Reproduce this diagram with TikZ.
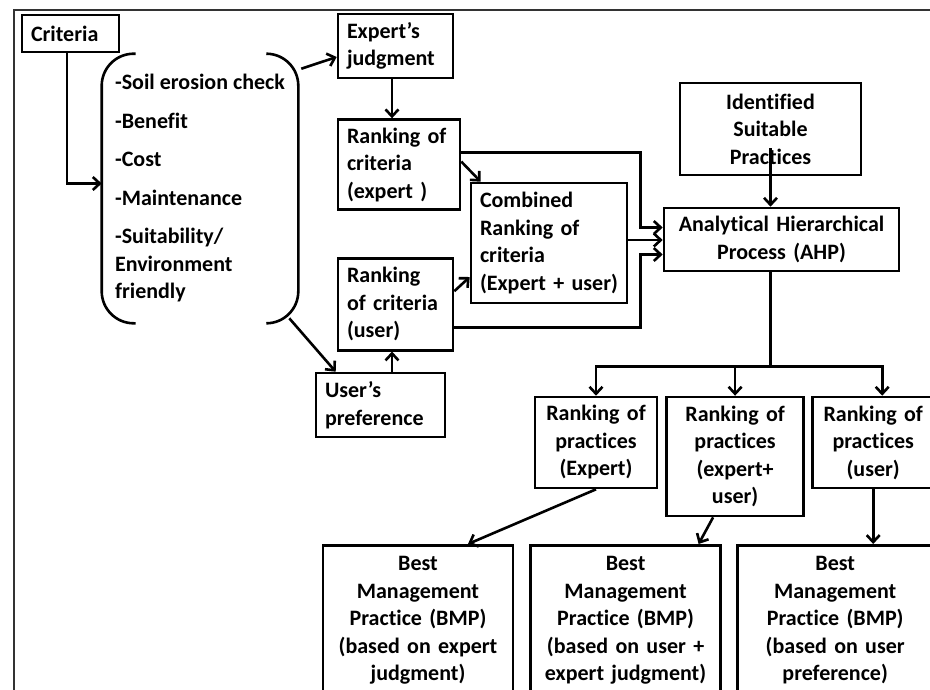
\documentclass[tikz,border=0pt]{standalone}
\usepackage{fontspec}
\setmainfont{Carlito}[Ligatures=NoCommon]
\usetikzlibrary{positioning,arrows.meta}

\begin{document}
\begin{tikzpicture}[
    x=1pt, y=-1pt,
    >={Straight Barb[length=7pt,width=13pt]},
    line width=2.6pt,
    txt/.style={font=\bfseries\fontsize{22}{27.5}\selectfont},
    box/.style={
        draw,
        txt,
        align=left,
        inner xsep=9pt,
        inner ysep=0pt
    },
    cbox/.style={box, align=center},
    bracket/.style={rounded corners=32pt}
]
    \useasboundingbox (0,0) rectangle (930,689);
    \clip (0,0) rectangle (930,689);

    % Outer frame (cut at right and bottom)
    \draw[line width=1.8pt, black!80] (14,700) -- (14,10) -- (940,10);

    % Criteria and the list in brackets
    \node[box, text width=79pt, minimum height=37pt] (crit) at (70.5,33.5) {Criteria};
    \node[txt, align=left, minimum width=194pt, minimum height=267pt] (crlist) at (200,188.5)
        {-Soil erosion check\\[11pt]-Benefit\\[11pt]-Cost\\[11pt]-Maintenance\\[11pt]-Suitability/\\Environment\\friendly};
    \draw[bracket] ([xshift=34pt]crlist.north west) -- (crlist.north west)
        -- (crlist.south west) -- ([xshift=34pt]crlist.south west);
    \draw[bracket] ([xshift=-32pt]crlist.north east) -- (crlist.north east)
        -- (crlist.south east) -- ([xshift=-32pt]crlist.south east);

    % Expert side and user side
    \node[box, text width=97pt, minimum height=64pt] (expj) at (395.5,46) {Expert’s\\judgment};
    \node[box, text width=104pt, minimum height=90pt, below=39pt of expj.south west, anchor=north west] (rce)
        {Ranking of\\criteria\\(expert )};
    \node[box, text width=97pt, minimum height=92pt, below=46pt of rce.south west, anchor=north west] (rcu)
        {Ranking\\of criteria\\(user)};
    \node[box, text width=111pt, minimum height=64pt] (upref) at (380.5,405) {User’s\\preference};
    \node[box, text width=138pt, minimum height=120pt] (comb) at (549,243)
        {Combined\\Ranking of\\criteria\\(Expert + user)};

    % AHP and practices
    \node[cbox, text width=163pt, minimum height=92pt] (idsp) at (770.5,129) {Identified\\Suitable\\Practices};
    \node[cbox, text width=217pt, minimum height=63pt] (ahp) at (781.5,239.5)
        {Analytical Hierarchical\\Process (AHP)};

    % Ranking of practices
    \node[cbox, text width=104pt, minimum height=91pt] (rpe) at (596,442.5) {Ranking of\\practices\\(Expert)};
    \node[cbox, text width=119pt, minimum height=119pt, right=7pt of rpe.north east, anchor=north west] (rpeu)
        {Ranking of\\practices\\(expert+\\user)};
    \node[cbox, text width=104pt, minimum height=91pt, right=6pt of rpeu.north east, anchor=north west] (rpu)
        {Ranking of\\practices\\(user)};

    % Best management practices
    \node[cbox, text width=172pt, minimum height=150pt, anchor=north] (bmp1) at (418,544)
        {Best\\Management\\Practice (BMP)\\(based on expert\\judgment)};
    \node[cbox, text width=172pt, minimum height=150pt, right=15pt of bmp1.north east, anchor=north west] (bmp2)
        {Best\\Management\\Practice (BMP)\\(based on user +\\expert judgment)};
    \node[cbox, text width=178pt, minimum height=150pt, right=14pt of bmp2.north east, anchor=north west] (bmp3)
        {Best\\Management\\Practice (BMP)\\(based on user\\preference)};

    % Arrows around the criteria
    \draw[->] ([xshift=-3.5pt]crit.south) |- ([yshift=5pt]crlist.west);
    \draw[->] ([shift={(3pt,-15pt)}]crlist.north east) -- ([yshift=-11pt]expj.west);
    \draw[->] ([shift={(-9pt,5pt)}]crlist.south east) -- ([xshift=21pt]upref.north west);
    \draw[->] ([xshift=-3.5pt]expj.south) -- ([xshift=-3.5pt]expj.south |- rce.north);
    \draw[->] ([xshift=11.5pt]upref.north) -- ([xshift=11.5pt]upref.north |- rcu.south);

    % Into the combined ranking and the AHP
    \draw[->] ([yshift=3pt]rce.east) -- ([xshift=11pt]comb.north west);
    \draw[->] ([yshift=13pt]rcu.east) -- ([yshift=-34pt]comb.west);
    \draw[->] ([yshift=12pt]rce.east) -| ([shift={(-22pt,12pt)}]ahp.west) -- ([yshift=12pt]ahp.west);
    \draw[->] ([yshift=3pt]comb.east) -- ([yshift=3pt]comb.east -| ahp.west);
    \draw[->] ([yshift=-23pt]rcu.east) -| ([shift={(-22pt,-15pt)}]ahp.west) -- ([yshift=-15pt]ahp.west);
    \draw[->] ([yshift=28pt]idsp.south) -- (idsp.south |- ahp.north);

    % AHP to the three rankings
    \coordinate (split) at ([yshift=-94pt]ahp.south -| idsp.south);
    \draw (ahp.south -| idsp.south) -- (split);
    \draw[->] (split) -| (rpe.north);
    \draw[->] (split) -| (rpeu.north);
    \draw[->] (split) -| ([xshift=9pt]rpu.north);

    % Rankings to BMP
    \draw[->] (rpe.south) -- ([xshift=50pt]bmp1.north);
    \draw[->] ([xshift=-22pt]rpeu.south) -- ([xshift=73pt]bmp2.north);
    \draw[->] (rpu.south) -- (rpu.south |- bmp3.north);
\end{tikzpicture}
\end{document}
